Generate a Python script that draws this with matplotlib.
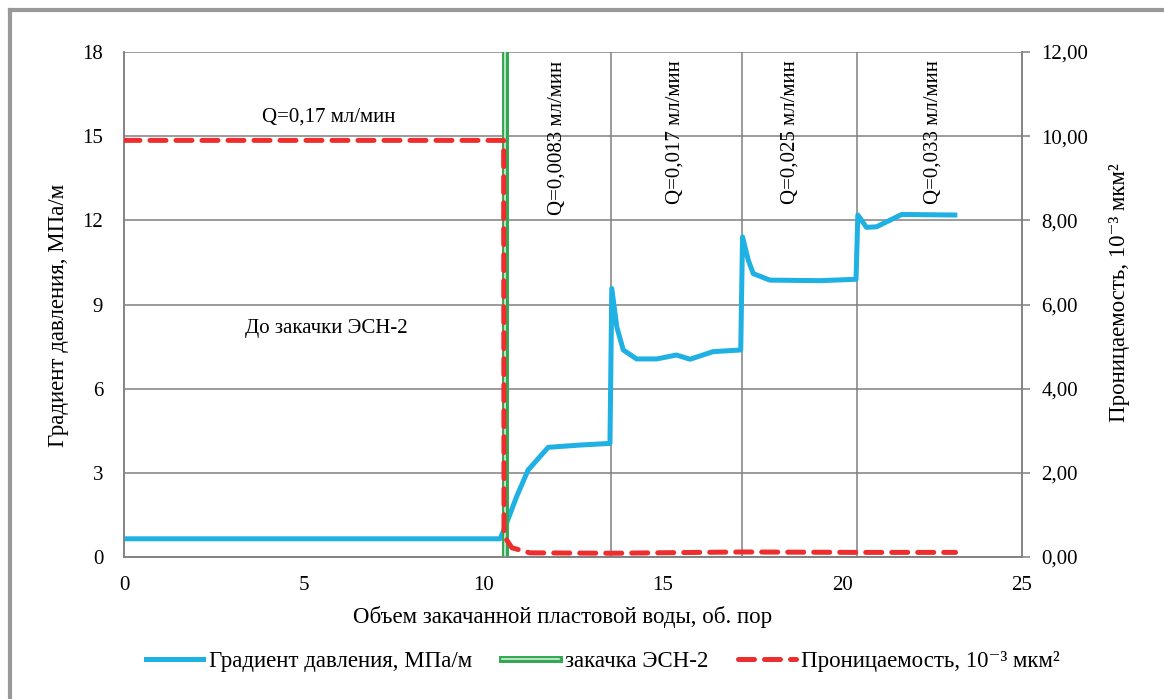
import numpy as np
import matplotlib
matplotlib.use("Agg")
import matplotlib.pyplot as plt
import matplotlib.patheffects as pe
from matplotlib.lines import Line2D

plt.rcParams['font.family'] = ['Liberation Serif', 'DejaVu Serif']
plt.rcParams['font.size'] = 15

# ---------------- data ----------------
# gradient of pressure, MPa/m (left axis)
grad_x = [0, 10.47, 10.62, 10.93, 11.25, 11.81, 12.69, 13.53, 13.58, 13.72, 13.9, 14.27,
          14.83, 15.38, 15.76, 16.4, 17.17, 17.22, 17.38, 17.52, 17.98, 19.38, 20.38,
          20.43, 20.67, 20.95, 21.65, 23.13]
grad_y = [0.65, 0.65, 1.1, 2.15, 3.1, 3.91, 3.99, 4.05, 9.57, 8.2, 7.38, 7.06,
          7.06, 7.2, 7.05, 7.32, 7.38, 11.41, 10.58, 10.1, 9.87, 9.85, 9.9,
          12.19, 11.75, 11.77, 12.21, 12.19]

# permeability, 10^-3 um^2 (right axis)
perm_x = [0, 10.57, 10.58, 10.8, 11.3, 13.57, 17.2, 20.42, 23.15]
perm_y = [9.9, 9.9, 0.5, 0.22, 0.1, 0.09, 0.12, 0.11, 0.11]

# ESN-2 injection marker
esn_x = [10.6, 10.6]
esn_y = [0, 18]

# boundaries between flow-rate stages
stage_bounds = [13.57, 17.2, 20.42]
stage_labels = ["Q=0,0083 мл/мин", "Q=0,017 мл/мин", "Q=0,025 мл/мин", "Q=0,033 мл/мин"]
stage_label_x = [12.05, 15.34, 18.54, 22.52]

left_ticks = [0, 3, 6, 9, 12, 15, 18]
right_ticks = [0, 2, 4, 6, 8, 10, 12]
x_ticks = [0, 5, 10, 15, 20, 25]

# ---------------- figure ----------------
fig = plt.figure(figsize=(11.64, 6.99), dpi=100)
ax = fig.add_axes([0.1065, 0.2031, 0.878 - 0.1065, 0.9256 - 0.2031])
ax2 = ax.twinx()

grid_c = '#808080'
for y in left_ticks:
    ax.axhline(y, color=grid_c, lw=1.1, zorder=1)
for xb in stage_bounds:
    ax.axvline(xb, color=grid_c, lw=1.1, zorder=1)

ax.plot(grad_x, grad_y, color='#1fb0e4', lw=3.6, zorder=3,
        solid_joinstyle='round', label='Градиент давления, МПа/м')
ax.plot(esn_x, esn_y, color='#d2f0da', lw=1.2, zorder=4,
        path_effects=[pe.Stroke(linewidth=5.0, foreground='#33a852'), pe.Normal()],
        label='закачка ЭСН-2')
ax2.plot(perm_x, perm_y, color='#ee2e2e', lw=3.6, ls=(0, (3.2, 2.0)),
         dash_capstyle='round', zorder=5, label='Проницаемость, 10⁻³ мкм²')

ax.set_xlim(0, 25)
ax.set_ylim(0, 18)
ax2.set_ylim(0, 12)
ax.set_xticks(x_ticks)
ax.set_yticks(left_ticks)
ax2.set_yticks(right_ticks)
ax2.set_yticklabels([f"{v:.2f}".replace('.', ',') for v in right_ticks])

ax.spines['top'].set_visible(False)
ax2.spines['top'].set_visible(False)
for a in (ax, ax2):
    for s in ['left', 'bottom', 'right']:
        a.spines[s].set_color(grid_c)
        a.spines[s].set_linewidth(1.1)
ax.tick_params(axis='both', length=0, pad=14)
ax.tick_params(axis='y', pad=15)
ax2.tick_params(axis='y', length=6, width=1.1, color=grid_c, pad=8)

ax.set_xlabel('Объем закачанной пластовой воды, об. пор', fontsize=16.5)
ax.set_ylabel('Градиент давления, МПа/м', fontsize=16.5)
ax2.set_ylabel('Проницаемость, 10⁻³ мкм²', fontsize=16.5)
ax.xaxis.set_label_coords(0.488, -0.097)
ax.yaxis.set_label_coords(-0.061, 0.479)
ax2.yaxis.set_label_coords(1.097, 0.523)

# annotations
ax.text(5.71, 15.68, 'Q=0,17 мл/мин', ha='center', va='center')
ax.text(5.63, 8.16, 'До закачки ЭСН-2', ha='center', va='center')
for lx, lt in zip(stage_label_x, stage_labels):
    ax.text(lx, 17.7, lt, rotation=90, ha='center', va='top')

# legend
h1, l1 = ax.get_legend_handles_labels()
h2, l2 = ax2.get_legend_handles_labels()
fig.legend(h1 + h2, l1 + l2, loc='center', bbox_to_anchor=(0.518, 0.054),
           ncol=3, frameon=False, fontsize=16.5, handlelength=2.5,
           handletextpad=0.26, columnspacing=1.3)

# outer frame (top and left edges visible)
fig.add_artist(Line2D([10 / 1164, 10 / 1164], [0, 1 - 10 / 699], color='#999999', lw=3,
                      transform=fig.transFigure))
fig.add_artist(Line2D([10 / 1164, 1], [1 - 10 / 699, 1 - 10 / 699], color='#999999', lw=3,
                      transform=fig.transFigure))

fig.savefig('out.png', dpi=100)
